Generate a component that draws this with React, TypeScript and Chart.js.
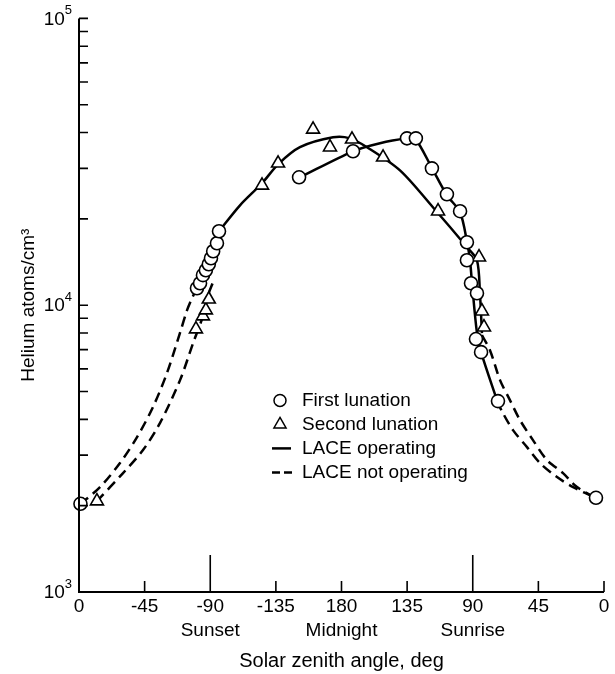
import React, { useEffect, useRef } from 'react';
import { Chart, registerables } from 'chart.js';

Chart.register(...registerables);

// Position along the axis: 0 = left "0", 180 = midnight, 360 = right "0"
const xTickValues = [0, 45, 90, 135, 180, 225, 270, 315, 360];
const xTickLabels = ['0', '-45', '-90', '-135', '180', '135', '90', '45', '0'];
const xSubLabels = ['', '', 'Sunset', '', 'Midnight', '', 'Sunrise', '', ''];
const xLongTicks = [90, 270];

const yTickValues = [
  1000, 2000, 3000, 4000, 5000, 6000, 7000, 8000, 9000,
  10000, 20000, 30000, 40000, 50000, 60000, 70000, 80000, 90000, 100000,
];
const yMajorValues = [1000, 10000, 100000];
const yMajorBase = ['10', '10', '10'];
const yMajorExp = ['3', '4', '5'];

const legendLabels = ['First lunation', 'Second lunation', 'LACE operating', 'LACE not operating'];

// First lunation (circles)
const firstX = [1, 80.9, 83, 85, 87, 89, 90.5, 92, 94.6, 96, 150.9, 187.9, 224.9, 231, 242, 252.3, 261.3, 266, 266, 268.8, 272.9, 272.2, 275.7, 287.3, 354.5];
const firstY = [2030, 11460, 11930, 12730, 13240, 13890, 14580, 15420, 16440, 18110, 27920, 34410, 38180, 38180, 30000, 24360, 21270, 16580, 14350, 11930, 11010, 7620, 6860, 4630, 2130];

// Second lunation (triangles)
const secondX = [12.3, 80.2, 85, 87, 89, 125.5, 136.5, 160.5, 172.1, 187.2, 208.5, 246.2, 274.3, 276.3, 277.7];
const secondY = [2075, 8250, 9160, 9610, 10490, 26180, 31250, 41040, 35550, 37880, 32780, 21270, 14700, 9530, 8380];

// LACE operating (solid) - arc through second lunation
const opAX = [96, 110.4, 125.5, 136.5, 151.5, 174.2, 185.8, 197.5, 220.1, 242.7, 266.1, 272.9, 275, 276.3];
const opAY = [18110, 22300, 26620, 30990, 35550, 38480, 38180, 35550, 29520, 21950, 15920, 14350, 10830, 7990];
// LACE operating (solid) - first lunation
const opBX = [151.5, 187.9, 206.4, 224.9, 230.4, 242.1, 252.3, 261.3, 266.1, 268.1, 269.5, 272.9, 275.7, 286.6];
const opBY = [27920, 34410, 36690, 38180, 38180, 30020, 24170, 21090, 16580, 14350, 11930, 7990, 6860, 4667];

// LACE not operating (dashed)
const offLeftAX = [1, 14.4, 28.1, 39.8, 50.7, 60.3, 69.2, 74.1, 77.5, 80.9];
const offLeftAY = [2027, 2322, 2816, 3468, 4412, 5797, 7990, 9607, 10580, 11460];
const offLeftBX = [12.3, 30.2, 43.9, 55.5, 69.3, 78.2, 85, 88.5, 91.9];
const offLeftBY = [2075, 2598, 3125, 3880, 5480, 7372, 9157, 10835, 12030];
const offRightAX = [276.3, 281.8, 288.7, 295.5, 302.4, 311.3, 320.9, 331.9, 341.5, 354.5];
const offRightAY = [7863, 6970, 5480, 4667, 3975, 3386, 2884, 2598, 2322, 2126];
const offRightBX = [286.6, 290.7, 297.6, 307.2, 316.1, 327.8, 338.8, 354.5];
const offRightBY = [4630, 4204, 3668, 3201, 2816, 2516, 2322, 2126];

const FONT = "'Liberation Sans', Arial, sans-serif";
const zip = (xs: number[], ys: number[]) => xs.map((x, i) => ({ x, y: ys[i] }));

const lineDs = (label: string, xs: number[], ys: number[], dashed: boolean) => ({
  type: 'line' as const,
  label,
  data: zip(xs, ys),
  borderColor: '#000',
  borderWidth: 2.5,
  borderDash: dashed ? [10, 6] : [],
  pointRadius: 0,
  fill: false,
  tension: 0.3,
  clip: false as const,
  order: 2,
});

const axesPlugin = {
  id: 'paperAxes',
  afterDraw(chart: any) {
    const { ctx } = chart;
    const xs = chart.scales.x;
    const ys = chart.scales.y;
    const x0 = xs.getPixelForValue(xTickValues[0]);
    const x1 = xs.getPixelForValue(xTickValues[xTickValues.length - 1]);
    const yb = ys.getPixelForValue(yTickValues[0]);
    const yt = ys.getPixelForValue(yTickValues[yTickValues.length - 1]);
    ctx.save();
    ctx.strokeStyle = '#000';
    ctx.lineWidth = 2;
    ctx.beginPath();
    ctx.moveTo(x0, yt);
    ctx.lineTo(x0, yb);
    ctx.lineTo(x1, yb);
    ctx.stroke();
    ctx.lineWidth = 1.6;
    ctx.beginPath();
    yTickValues.forEach((v) => {
      const py = ys.getPixelForValue(v);
      ctx.moveTo(x0, py);
      ctx.lineTo(x0 + 9, py);
    });
    xTickValues.forEach((v) => {
      if (v === xTickValues[0]) return;
      const px = xs.getPixelForValue(v);
      const len = xLongTicks.includes(v) ? 37 : 11;
      ctx.moveTo(px, yb);
      ctx.lineTo(px, yb - len);
    });
    ctx.stroke();
    // y tick labels with superscript exponents
    ctx.fillStyle = '#000';
    ctx.textBaseline = 'middle';
    yMajorValues.forEach((v, i) => {
      const py = ys.getPixelForValue(v);
      ctx.font = `13px ${FONT}`;
      ctx.textAlign = 'right';
      const ew = ctx.measureText(yMajorExp[i]).width;
      const right = x0 - 7;
      ctx.fillText(yMajorExp[i], right, py - 8);
      ctx.font = `19px ${FONT}`;
      ctx.fillText(yMajorBase[i], right - ew, py + 1);
    });
    ctx.restore();
  },
};

const legendPlugin = {
  id: 'paperLegend',
  afterDraw(chart: any) {
    const { ctx, chartArea } = chart;
    const mx = chartArea.left + 201;
    const tx = chartArea.left + 223;
    const rows = [chartArea.top + 382, chartArea.top + 406, chartArea.top + 430, chartArea.top + 454];
    ctx.save();
    ctx.strokeStyle = '#000';
    ctx.fillStyle = '#fff';
    ctx.lineWidth = 1.5;
    ctx.beginPath();
    ctx.arc(mx, rows[0], 6, 0, Math.PI * 2);
    ctx.fill();
    ctx.stroke();
    const r = 7;
    ctx.beginPath();
    ctx.moveTo(mx, rows[1] - r);
    ctx.lineTo(mx + r * 0.866, rows[1] + r * 0.5);
    ctx.lineTo(mx - r * 0.866, rows[1] + r * 0.5);
    ctx.closePath();
    ctx.fill();
    ctx.stroke();
    ctx.lineWidth = 2.5;
    ctx.beginPath();
    ctx.moveTo(mx - 8, rows[2]);
    ctx.lineTo(mx + 11, rows[2]);
    ctx.stroke();
    ctx.setLineDash([8, 4]);
    ctx.beginPath();
    ctx.moveTo(mx - 8, rows[3]);
    ctx.lineTo(mx + 12, rows[3]);
    ctx.stroke();
    ctx.setLineDash([]);
    ctx.fillStyle = '#000';
    ctx.font = `19px ${FONT}`;
    ctx.textAlign = 'left';
    ctx.textBaseline = 'middle';
    legendLabels.forEach((t, i) => ctx.fillText(t, tx, rows[i]));
    ctx.restore();
  },
};

export default function App() {
  const ref = useRef<HTMLCanvasElement | null>(null);
  useEffect(() => {
    if (!ref.current) return;
    const chart = new Chart(ref.current, {
      type: 'scatter',
      data: {
        datasets: [
          {
            type: 'scatter',
            label: legendLabels[0],
            data: zip(firstX, firstY),
            pointStyle: 'circle',
            pointRadius: 6.5,
            pointBackgroundColor: '#fff',
            pointBorderColor: '#000',
            pointBorderWidth: 1.6,
            clip: false,
            order: 0,
          } as any,
          {
            type: 'scatter',
            label: legendLabels[1],
            data: zip(secondX, secondY),
            pointStyle: 'triangle',
            pointRadius: 7.5,
            pointBackgroundColor: '#fff',
            pointBorderColor: '#000',
            pointBorderWidth: 1.6,
            clip: false,
            order: 0,
          } as any,
          lineDs(legendLabels[2], opAX, opAY, false),
          lineDs(legendLabels[2], opBX, opBY, false),
          lineDs(legendLabels[3], offLeftAX, offLeftAY, true),
          lineDs(legendLabels[3], offLeftBX, offLeftBY, true),
          lineDs(legendLabels[3], offRightAX, offRightAY, true),
          lineDs(legendLabels[3], offRightBX, offRightBY, true),
        ] as any,
      },
      options: {
        animation: false,
        responsive: false,
        devicePixelRatio: 1,
        layout: { padding: { top: 17, right: 11, left: 0, bottom: 0 } },
        plugins: { legend: { display: false }, tooltip: { enabled: false } },
        scales: {
          x: {
            type: 'linear',
            min: 0,
            max: 360,
            grid: { display: false, drawTicks: false },
            border: { display: false },
            afterBuildTicks: (s: any) => {
              s.ticks = xTickValues.map((v) => ({ value: v }));
            },
            afterFit: (s: any) => {
              s.height = 82;
            },
            ticks: {
              autoSkip: false,
              maxRotation: 0,
              padding: 3,
              color: '#000',
              font: { family: FONT, size: 19, lineHeight: 1.263 },
              callback: (v: any) => {
                const i = xTickValues.indexOf(Number(v));
                if (i < 0) return '';
                return xSubLabels[i] ? [xTickLabels[i], xSubLabels[i]] : xTickLabels[i];
              },
            },
            title: {
              display: true,
              text: 'Solar zenith angle, deg',
              color: '#000',
              font: { family: FONT, size: 20, lineHeight: 1.2 },
              padding: { top: 0, bottom: 1 },
            },
          },
          y: {
            type: 'logarithmic',
            min: 1000,
            max: 100000,
            grid: { display: false, drawTicks: false },
            border: { display: false },
            afterBuildTicks: (s: any) => {
              s.ticks = yTickValues.map((v) => ({ value: v }));
            },
            afterFit: (s: any) => {
              s.width = 79;
            },
            ticks: {
              autoSkip: false,
              padding: 7,
              color: '#000',
              font: { family: FONT, size: 19 },
              callback: () => '',
            },
            title: {
              display: true,
              text: 'Helium atoms/cm³',
              color: '#000',
              font: { family: FONT, size: 19, lineHeight: 1.2 },
              padding: { top: 17, bottom: 0 },
            },
          },
        },
      },
      plugins: [axesPlugin, legendPlugin],
    } as any);
    return () => chart.destroy();
  }, []);
  return (
    <div style={{ position: 'absolute', left: 0, top: 0, width: 615, height: 674, background: '#fff' }}>
      <canvas ref={ref} width={615} height={674} style={{ display: 'block' }} />
    </div>
  );
}
